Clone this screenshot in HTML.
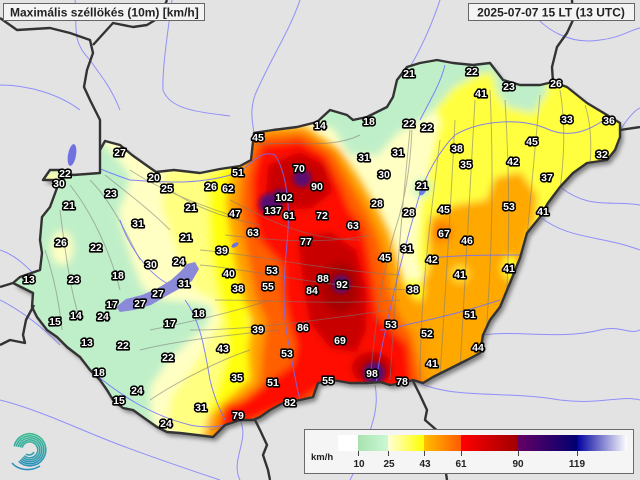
<!DOCTYPE html>
<html><head><meta charset="utf-8"><style>
html,body{margin:0;padding:0;background:#e3e3e3;}
svg{display:block;}
.lb{font-family:"Liberation Sans",sans-serif;font-weight:bold;font-size:10.5px;fill:#fff;stroke:#000;stroke-width:3.2px;stroke-linejoin:round;paint-order:stroke;text-anchor:middle;}
</style></head><body>
<svg width="640" height="480" viewBox="0 0 640 480" xmlns="http://www.w3.org/2000/svg">
<defs>
<path id="hu" d="M100,150 L105,141 L120,145 L132,155 L146,165 L156,172 L174,170 L200,173 L220,169 L240,166 L251,160 L254,133 L273,130 L297,127 L317,122 L330,110 L347,115 L353,120 L367,117 L387,107 L393,97 L397,80 L407,67 L420,63 L437,60 L453,63 L473,65 L490,63 L503,80 L520,85 L540,85 L553,82 L567,87 L587,103 L607,115 L620,123 L620,137 L615,150 L607,160 L587,163 L573,173 L560,187 L548,203 L540,217 L527,233 L520,258 L510,283 L500,307 L490,320 L483,335 L480,353 L467,360 L453,367 L433,377 L423,383 L413,380 L403,383 L390,385 L380,382 L367,383 L350,383 L333,380 L318,383 L313,397 L300,400 L283,403 L270,410 L260,417 L253,420 L240,420 L225,425 L213,437 L197,435 L180,433 L167,432 L157,427 L147,420 L133,410 L123,408 L113,400 L107,390 L100,380 L90,370 L80,357 L67,347 L57,337 L47,330 L37,317 L32,307 L33,293 L13,283 L20,277 L40,270 L42,253 L40,240 L42,217 L50,207 L57,188 L53,180 L43,180 L50,170 L60,170 L73,175 L100,173 Z"/>
<clipPath id="huc"><use href="#hu"/></clipPath>
<filter id="bl" x="-10%" y="-10%" width="120%" height="120%"><feGaussianBlur stdDeviation="4"/></filter>
<filter id="bl2" x="-50%" y="-50%" width="200%" height="200%"><feGaussianBlur stdDeviation="2.5"/></filter>
<filter id="sh" x="-10%" y="-10%" width="120%" height="120%"><feGaussianBlur stdDeviation="2"/></filter>
<linearGradient id="g1"><stop offset="0" stop-color="#a8e2b0"/><stop offset="1" stop-color="#cbf8d4"/></linearGradient>
<linearGradient id="g2"><stop offset="0" stop-color="#ffffd8"/><stop offset="1" stop-color="#ffff00"/></linearGradient>
<linearGradient id="g3"><stop offset="0" stop-color="#ffc000"/><stop offset="1" stop-color="#ff5a00"/></linearGradient>
<linearGradient id="g4"><stop offset="0" stop-color="#ff0000"/><stop offset="1" stop-color="#a00000"/></linearGradient>
<linearGradient id="g5"><stop offset="0" stop-color="#640064"/><stop offset="1" stop-color="#000070"/></linearGradient>
<linearGradient id="g6"><stop offset="0" stop-color="#0000a0"/><stop offset="1" stop-color="#ffffff"/></linearGradient>
<linearGradient id="lg" gradientUnits="userSpaceOnUse" x1="0" y1="430" x2="0" y2="470"><stop offset="0" stop-color="#3cc08a"/><stop offset="1" stop-color="#2a8cc0"/></linearGradient>
</defs>

<!-- background rivers -->
<g fill="none" stroke="#7a7aff" stroke-width="1" opacity="0.8">
<path d="M75,0 C78,25 70,40 90,60 C100,75 110,85 120,110"/>
<path d="M172,0 C168,30 162,70 163,90 C170,110 200,112 230,116"/>
<path d="M0,85 C30,85 60,95 80,110"/>
<path d="M300,0 C290,30 270,60 255,95 C250,110 252,120 254,133"/>
<path d="M440,0 C430,30 420,50 410,67"/>
<path d="M530,10 C545,30 570,45 600,40 C620,38 630,30 640,28"/>
<path d="M620,130 C628,118 635,110 640,108"/>
<path d="M560,187 C590,210 610,200 640,205"/>
<path d="M540,217 C570,240 600,235 640,250"/>
<path d="M483,335 C520,330 560,340 600,330 C620,325 630,335 640,330"/>
<path d="M413,380 C450,400 500,390 560,400 C600,405 620,395 640,400"/>
<path d="M375,385 C380,410 370,430 360,460 C355,470 350,480 350,480"/>
<path d="M240,420 C250,440 230,460 240,480"/>
<path d="M0,300 C20,310 40,325 60,345"/>
<path d="M0,400 C40,410 80,430 120,445 C160,460 190,470 220,480"/>
<path d="M0,250 C15,255 25,265 35,275"/>
</g>

<!-- Hungary shadow -->
<use href="#hu" transform="translate(3,4)" fill="#555" opacity="0.7" filter="url(#sh)"/>

<!-- Color field -->
<g clip-path="url(#huc)">
<rect x="0" y="50" width="640" height="400" fill="#ffffc4"/>
<g filter="url(#bl)">
<path fill="#bfefc8" d="M0,150 L100,140 L118,160 L130,176 L125,195 L118,212 L124,236 L132,262 L142,288 L162,300 L196,303 L212,308 L206,326 L186,343 L166,363 L150,386 L150,410 L158,445 L0,445 Z"/>
<ellipse cx="62" cy="248" rx="11" ry="17" fill="#ffffc4"/>
<ellipse cx="52" cy="178" rx="10" ry="7" fill="#ffffb0"/>
<ellipse cx="190" cy="214" rx="8" ry="17" fill="#bfefc8"/>
<path fill="#ffff80" d="M165,172 L245,148 L250,438 L185,438 L168,422 L172,396 L192,370 L207,345 L220,320 L214,300 L196,290 L182,266 L172,236 L162,205 Z"/>
<path fill="#ffff10" d="M208,178 L248,150 L250,438 L212,438 L207,412 L218,386 L228,352 L224,316 L216,286 L210,252 L208,215 Z"/>
<path fill="#ffff40" d="M395,55 L640,55 L640,260 L525,262 L485,300 L430,300 L418,255 L422,205 L432,160 L442,120 Z"/>
<path fill="#bfefc8" d="M320,55 L545,55 L547,92 L533,113 L507,107 L497,93 L493,72 L477,75 L453,88 L437,107 L420,120 L396,134 L378,155 L350,155 L333,128 L320,126 Z"/>
<circle cx="422" cy="188" r="9" fill="#bfefc8"/>
<path fill="#ffa800" d="M430,218 L455,205 L487,200 L495,178 L520,172 L537,195 L535,218 L526,245 L523,430 L385,430 L392,335 L405,312 L420,290 L430,265 L428,240 Z"/>
<circle cx="412" cy="292" r="12" fill="#ffff30"/>
<circle cx="460" cy="274" r="9" fill="#ffe030"/>
<ellipse cx="510" cy="268" rx="8" ry="12" fill="#ffff30"/>
<circle cx="442" cy="232" r="10" fill="#ff7a00"/>
<path fill="#ffa000" d="M250,126 L305,126 L340,150 L360,180 L378,210 L390,235 L397,260 L404,285 L418,302 L428,330 L440,430 L200,445 L210,415 L232,395 L250,380 L248,350 L252,320 L242,295 L235,265 L230,235 L226,205 L229,180 L240,160 Z"/>
<path fill="#ff6000" d="M256,136 L302,133 L333,152 L350,182 L366,210 L378,236 L386,262 L390,290 L400,318 L412,334 L420,370 L425,400 L215,440 L222,412 L240,400 L260,384 L262,354 L266,322 L256,298 L250,268 L244,238 L240,210 L242,180 L248,158 Z"/>
<path fill="#ff0a00" d="M262,145 L300,140 L325,155 L340,185 L350,210 L362,225 L368,250 L373,280 L378,315 L392,330 L408,345 L413,390 L320,388 L300,402 L280,408 L240,425 L218,430 L225,405 L245,400 L270,380 L292,365 L296,345 L288,320 L283,295 L282,265 L268,250 L258,238 L252,210 L252,180 L256,160 Z"/>
<path fill="#c80000" d="M298,238 L330,232 L356,250 L366,290 L366,330 L356,352 L330,348 L310,322 L304,290 Z"/>
<path fill="#c80000" d="M268,165 L300,152 L326,165 L332,192 L312,208 L284,210 L266,195 Z"/>
<ellipse cx="340" cy="288" rx="18" ry="26" fill="#a80000"/>
<ellipse cx="372" cy="368" rx="20" ry="16" fill="#c00000"/>
</g>
<g filter="url(#bl2)" fill="#5a0a70">
<circle cx="302" cy="178" r="9"/>
<circle cx="270" cy="204" r="11"/>
<circle cx="280" cy="196" r="7"/>
<circle cx="341" cy="284" r="9"/>
<circle cx="374" cy="373" r="11"/>
</g>
<!-- streamlines -->
<g fill="none" stroke="#7a7a7a" stroke-width="1" opacity="0.55">
<path d="M70,185 C90,210 110,250 120,290"/>
<path d="M90,180 C110,200 125,230 140,260"/>
<path d="M105,175 C130,195 150,210 170,230"/>
<path d="M130,170 C160,190 200,205 230,215"/>
<path d="M60,210 C65,250 70,290 80,320"/>
<path d="M45,250 C55,280 60,310 62,330"/>
<path d="M150,175 C180,200 210,215 260,225"/>
<path d="M230,200 C260,215 300,240 360,240"/>
<path d="M225,235 C270,240 320,245 370,235"/>
<path d="M200,250 C260,255 320,270 400,275"/>
<path d="M200,265 C260,270 330,290 420,290"/>
<path d="M215,300 C270,300 330,305 400,300"/>
<path d="M190,330 C250,330 320,320 390,310"/>
<path d="M150,330 C200,320 240,310 270,300"/>
<path d="M140,350 C180,340 230,335 280,330"/>
<path d="M210,430 C250,420 300,405 350,395"/>
<path d="M150,400 C180,380 220,360 250,350"/>
<path d="M390,380 C395,300 400,230 410,130"/>
<path d="M420,380 C420,300 430,220 440,140"/>
<path d="M440,375 C445,300 450,220 455,120"/>
<path d="M460,370 C465,290 470,200 475,100"/>
<path d="M485,350 C490,280 495,200 490,90"/>
<path d="M505,320 C510,250 510,180 505,100"/>
<path d="M525,260 C530,200 535,150 540,95"/>
<path d="M560,190 C565,150 565,120 560,90"/>
<path d="M590,165 C592,140 590,120 585,105"/>
<path d="M370,380 C375,330 380,280 395,230 C405,200 410,170 412,130"/>
<path d="M255,145 C290,140 330,150 360,135"/>
</g>
<!-- rivers inside -->
<g fill="none" stroke="#6f6fff" stroke-width="1" opacity="0.85">
<path d="M60,150 C80,160 100,170 130,180 C160,182 200,186 240,172 C255,160 262,150 275,155 C285,170 290,200 288,230 C286,260 280,300 288,340 C293,365 296,385 300,400 C305,410 300,420 295,430"/>
<path d="M607,118 C590,130 570,140 545,128 C520,118 480,120 455,135 C440,150 425,175 418,200 C410,230 398,270 390,310 C382,345 378,365 376,385"/>
<path d="M90,370 C120,395 150,415 190,425 C205,428 215,427 225,425"/>
<path d="M185,300 C200,320 205,350 210,380 C215,400 220,410 225,420"/>
<path d="M420,120 C430,100 440,85 445,65"/>
<path d="M500,300 C470,310 440,318 405,325 C395,328 388,330 380,330"/>
<path d="M520,255 C490,255 460,255 430,258"/>
<path d="M120,220 C130,250 150,275 170,285"/>
</g>
<!-- lakes -->
<path d="M116,307 L126,299 L142,295 L158,288 L171,280 L181,271 L187,264 L195,262 L199,269 L192,281 L179,289 L168,295 L151,305 L134,310 L120,312 Z" fill="#8a8ad8"/>
<ellipse cx="235" cy="245" rx="4" ry="2" fill="#7070dc" transform="rotate(-30 235 245)"/>
<ellipse cx="423" cy="190" rx="3" ry="6" fill="#6a7ae6" transform="rotate(30 423 190)"/>
</g>
<ellipse cx="72" cy="155" rx="4" ry="11" fill="#7070e0" transform="rotate(10 72 155)"/>

<!-- Country borders -->
<g fill="none" stroke="#333" stroke-width="2.4" stroke-linejoin="round">
<use href="#hu"/>
<path d="M100,150 L100,120 L90,100 L84,87 L87,70 L93,53 L90,40 L70,33 L50,28 L17,30 L0,18"/>
<path d="M93,45 L113,23 L133,27 L147,25 L160,17 L167,0"/>
<path d="M553,82 L552,67 L557,47 L567,33 L573,20 L572,0"/>
<path d="M620,130 L640,127"/>
<path d="M413,381 L420,395 L427,410 L425,420 L440,433 L447,480"/>
<path d="M255,420 L260,430 L267,445 L263,455 L268,470 L270,480"/>
<path d="M13,283 L0,287"/>
<path d="M34,305 L26,320 L23,335 L25,343 L10,340 L0,345"/>
</g>

<!-- labels -->
<g class="lb">
<text x="409" y="77">21</text><text x="472" y="75">22</text><text x="509" y="90">23</text><text x="556" y="87">26</text><text x="481" y="97">41</text><text x="567" y="123">33</text><text x="609" y="124">36</text><text x="320" y="129">14</text><text x="369" y="125">18</text><text x="409" y="127">22</text><text x="427" y="131">22</text><text x="258" y="141">45</text><text x="457" y="152">38</text><text x="532" y="145">45</text><text x="513" y="165">42</text><text x="466" y="168">35</text><text x="602" y="158">32</text><text x="364" y="161">31</text><text x="398" y="156">31</text><text x="384" y="178">30</text><text x="422" y="189">21</text><text x="547" y="181">37</text><text x="238" y="176">51</text><text x="299" y="172">70</text><text x="317" y="190">90</text><text x="228" y="192">62</text><text x="284" y="201">102</text><text x="273" y="214">137</text><text x="289" y="219">61</text><text x="322" y="219">72</text><text x="377" y="207">28</text><text x="409" y="216">28</text><text x="444" y="213">45</text><text x="509" y="210">53</text><text x="543" y="215">41</text><text x="235" y="217">47</text><text x="253" y="236">63</text><text x="353" y="229">63</text><text x="306" y="245">77</text><text x="444" y="237">67</text><text x="467" y="244">46</text><text x="407" y="252">31</text><text x="385" y="261">45</text><text x="432" y="263">42</text><text x="222" y="254">39</text><text x="229" y="277">40</text><text x="238" y="292">38</text><text x="272" y="274">53</text><text x="268" y="290">55</text><text x="323" y="282">88</text><text x="342" y="288">92</text><text x="312" y="294">84</text><text x="460" y="278">41</text><text x="509" y="272">41</text><text x="413" y="293">38</text><text x="470" y="318">51</text><text x="303" y="331">86</text><text x="340" y="344">69</text><text x="391" y="328">53</text><text x="427" y="337">52</text><text x="478" y="351">44</text><text x="432" y="367">41</text><text x="372" y="377">98</text><text x="402" y="385">78</text><text x="328" y="384">55</text><text x="258" y="333">39</text>
<text x="120" y="156">27</text><text x="65" y="177">22</text><text x="59" y="187">30</text><text x="154" y="181">20</text><text x="167" y="192">25</text><text x="211" y="190">26</text><text x="111" y="197">23</text><text x="69" y="209">21</text><text x="191" y="211">21</text><text x="138" y="227">31</text><text x="186" y="241">21</text><text x="61" y="246">26</text><text x="96" y="251">22</text><text x="151" y="268">30</text><text x="179" y="265">24</text><text x="29" y="283">13</text><text x="74" y="283">23</text><text x="118" y="279">18</text><text x="184" y="287">31</text><text x="158" y="297">27</text><text x="112" y="308">17</text><text x="140" y="307">27</text><text x="199" y="317">18</text><text x="55" y="325">15</text><text x="76" y="319">14</text><text x="103" y="320">24</text><text x="170" y="327">17</text><text x="87" y="346">13</text><text x="123" y="349">22</text><text x="168" y="361">22</text><text x="223" y="352">43</text><text x="287" y="357">53</text><text x="99" y="376">18</text><text x="237" y="381">35</text><text x="273" y="386">51</text><text x="137" y="394">24</text><text x="119" y="404">15</text><text x="201" y="411">31</text><text x="290" y="406">82</text><text x="238" y="419">79</text><text x="166" y="427">24</text>
</g>

<!-- title boxes -->
<rect x="3.5" y="3.5" width="201" height="17" fill="#f4f4f4" stroke="#666" stroke-width="1"/>
<text x="10" y="16.5" font-family="Liberation Sans, sans-serif" font-weight="bold" font-size="12" fill="#222">Maximális széllökés (10m) [km/h]</text>
<rect x="468.5" y="3.5" width="166" height="17" fill="#f4f4f4" stroke="#666" stroke-width="1"/>
<text x="551" y="16.5" text-anchor="middle" font-family="Liberation Sans, sans-serif" font-weight="bold" font-size="12" fill="#222">2025-07-07 15 LT (13 UTC)</text>

<!-- logo -->
<g fill="none" stroke="url(#lg)" stroke-width="1.6">
<path d="M18.7,461.3 A16,16 0 1,0 14.2,446.2"/>
<path d="M20.1,459.9 A14,14 0 1,0 16.2,446.6"/>
<path d="M21.5,458.5 A12,12 0 1,0 18.2,446.9"/>
<path d="M22.9,457.1 A10,10 0 1,0 20.2,447.3"/>
<path d="M24.3,455.7 A8,8 0 1,0 22.1,447.6"/>
<path d="M26,454 A5.5,5.5 0 0,0 34,452"/>
<path d="M12,463 C18,470 30,472 40,466"/>
</g>

<!-- legend -->
<rect x="304.5" y="429.5" width="329" height="44" fill="#f5f5f5" stroke="#6a6a6a" stroke-width="1"/>
<rect x="338" y="435" width="20" height="16" fill="#ffffff"/>
<rect x="358" y="435" width="30" height="16" fill="url(#g1)"/>
<rect x="388" y="435" width="36" height="16" fill="url(#g2)"/>
<rect x="424" y="435" width="37" height="16" fill="url(#g3)"/>
<rect x="461" y="435" width="57" height="16" fill="url(#g4)"/>
<rect x="518" y="435" width="59" height="16" fill="url(#g5)"/>
<rect x="577" y="435" width="50" height="16" fill="url(#g6)"/>
<g stroke="#444" stroke-width="1">
<line x1="358.5" y1="451" x2="358.5" y2="456"/><line x1="388.5" y1="451" x2="388.5" y2="456"/><line x1="424.5" y1="451" x2="424.5" y2="456"/><line x1="461.5" y1="451" x2="461.5" y2="456"/><line x1="518.5" y1="451" x2="518.5" y2="456"/><line x1="577.5" y1="451" x2="577.5" y2="456"/>
</g>
<g font-family="Liberation Sans, sans-serif" font-weight="bold" font-size="10" fill="#222" text-anchor="middle">
<text x="359" y="467">10</text><text x="389" y="467">25</text><text x="425" y="467">43</text><text x="461" y="467">61</text><text x="518" y="467">90</text><text x="577" y="467">119</text>
</g>
<text x="311" y="460" font-family="Liberation Sans, sans-serif" font-weight="bold" font-size="9.5" fill="#222">km/h</text>
</svg>
</body></html>
